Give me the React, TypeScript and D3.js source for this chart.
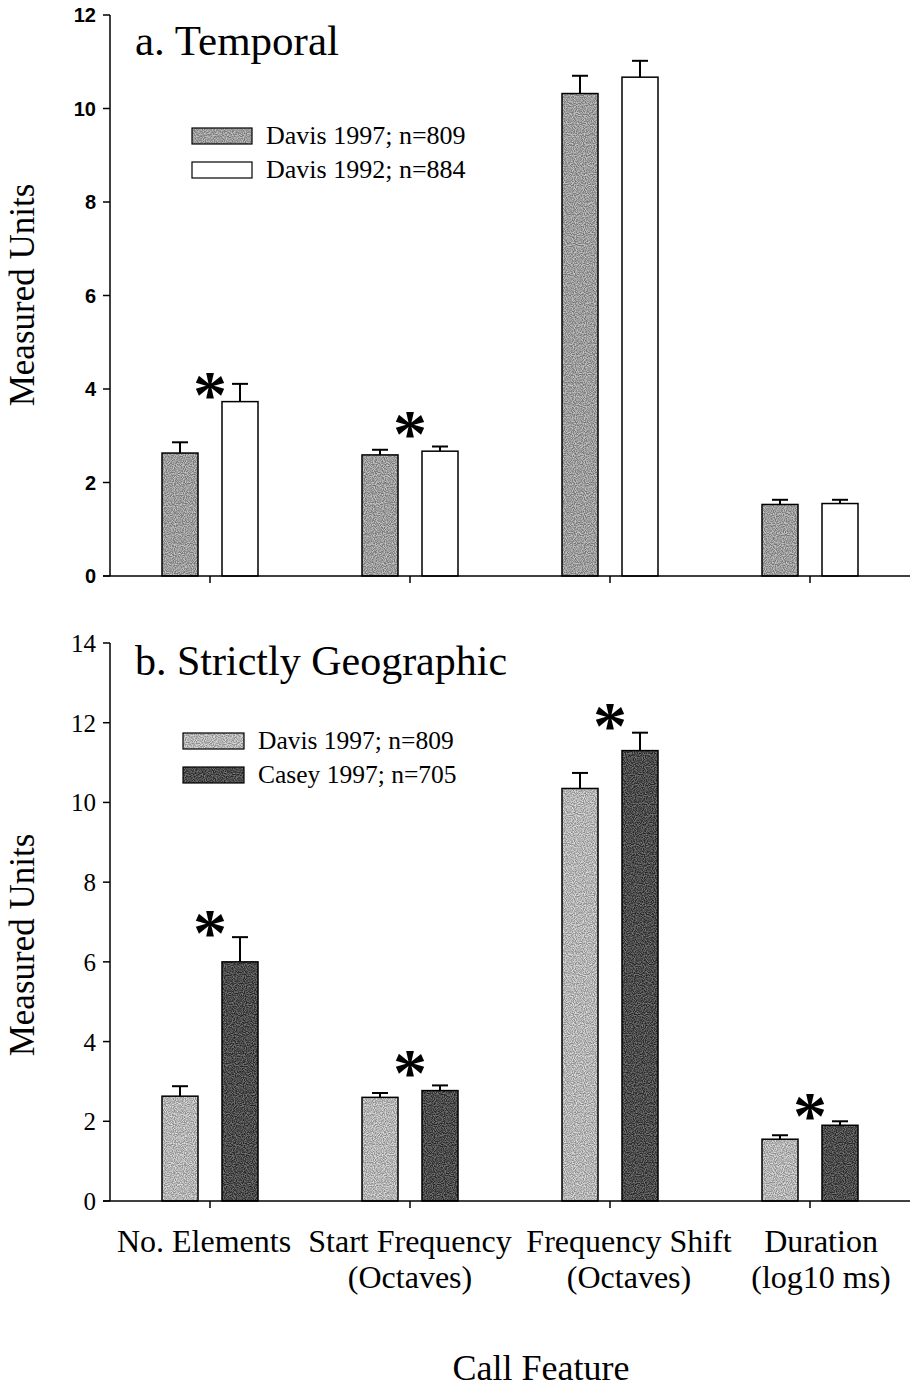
import React from "react";
import * as d3 from "d3";

const categories = ["No. Elements", "Start Frequency", "Frequency Shift", "Duration"];
const categoryLines = [["No. Elements"], ["Start Frequency", "(Octaves)"], ["Frequency Shift", "(Octaves)"], ["Duration", "(log10 ms)"]];

// Panel a — Temporal
const davis1997 = [2.63, 2.59, 10.32, 1.53];
const davis1997Err = [2.86, 2.70, 10.70, 1.63];
const davis1992 = [3.73, 2.67, 10.67, 1.55];
const davis1992Err = [4.11, 2.77, 11.02, 1.63];
const temporalStars: (number | null)[] = [4.09, 3.25, null, null];

// Panel b — Strictly Geographic
const davis1997b = [2.63, 2.60, 10.35, 1.55];
const davis1997bErr = [2.88, 2.71, 10.74, 1.65];
const casey1997 = [6.0, 2.77, 11.3, 1.9];
const casey1997Err = [6.62, 2.9, 11.75, 2.0];
const geoStars: (number | null)[] = [6.98, 3.46, 12.17, 2.38];

const yTicksA = [0, 2, 4, 6, 8, 10, 12];
const yTicksB = [0, 2, 4, 6, 8, 10, 12, 14];

const SERIF = "'Liberation Serif', 'Times New Roman', Times, serif";
const SANS = "'Liberation Sans', Arial, Helvetica, sans-serif";

// horizontal nudges of the category labels (layout, not data)
const LABEL_SHIFT = [-6, 0, 19, 11];

type Series = { name: string; values: number[]; err: number[]; fill: string; stipple: boolean };

type PanelProps = {
  title: string;
  series: Series[];
  stars: (number | null)[];
  yMax: number;
  ticks: number[];
  yTop: number;
  yBottom: number;
  tickFont: string;
  tickWeight: number;
  tickSize: number;
  legendX: number;
  legendY: number;
  legendW: number;
  legendH: number;
  legendGap: number;
  legendFont: number;
  titleY: number;
  titleSize: number;
  yLabelCenter: number;
};

function Panel(p: PanelProps) {
  const x = d3.scaleBand<string>().domain(categories).range([110, 910]).padding(0);
  const inner = d3
    .scaleBand<string>()
    .domain(p.series.map((s) => s.name))
    .range([-48, 48])
    .paddingInner(0.4)
    .paddingOuter(0);
  const y = d3.scaleLinear().domain([0, p.yMax]).range([p.yBottom, p.yTop]);
  const cx = (c: string) => (x(c) as number) + x.bandwidth() / 2;

  return (
    <g>
      {/* bars */}
      {p.series.map((s) => (
        <g key={s.name}>
          {categories.map((c, i) => {
            const bx = cx(c) + (inner(s.name) as number);
            const bw = inner.bandwidth();
            const mid = bx + bw / 2;
            const top = y(s.values[i]);
            const h = y(0) - top;
            return (
              <g key={c}>
                <line x1={mid} x2={mid} y1={top} y2={y(s.err[i])} stroke="#000" strokeWidth={2} />
                <line x1={mid - 8} x2={mid + 8} y1={y(s.err[i])} y2={y(s.err[i])} stroke="#000" strokeWidth={2} />
                <rect
                  x={bx}
                  y={top}
                  width={bw}
                  height={h}
                  fill={s.fill}
                  filter={s.stipple ? "url(#stipple)" : undefined}
                />
                <rect x={bx} y={top} width={bw} height={h} fill="none" stroke="#000" strokeWidth={1.5} />
              </g>
            );
          })}
        </g>
      ))}
      {/* stars */}
      {categories.map((c, i) =>
        p.stars[i] == null ? null : (
          <text
            key={c}
            x={cx(c)}
            y={y(p.stars[i] as number) + 32}
            textAnchor="middle"
            fontFamily={SERIF}
            fontWeight={700}
            fontSize={68}
            fill="#000"
          >
            *
          </text>
        )
      )}
      {/* y axis */}
      <line x1={110} x2={110} y1={y(p.yMax)} y2={y(0)} stroke="#000" strokeWidth={1.5} />
      {p.ticks.map((t) => (
        <g key={t}>
          <line x1={103} x2={110} y1={y(t)} y2={y(t)} stroke="#000" strokeWidth={1.5} />
          <text
            x={96}
            y={y(t)}
            dy="0.36em"
            textAnchor="end"
            fontFamily={p.tickFont}
            fontWeight={p.tickWeight}
            fontSize={p.tickSize}
            fill="#000"
          >
            {t}
          </text>
        </g>
      ))}
      {/* x axis */}
      <line x1={103} x2={910} y1={y(0)} y2={y(0)} stroke="#000" strokeWidth={1.5} />
      {categories.map((c) => (
        <line key={c} x1={cx(c)} x2={cx(c)} y1={y(0)} y2={y(0) + 7} stroke="#000" strokeWidth={1.5} />
      ))}
      {/* y label */}
      <text
        transform={`translate(34,${p.yLabelCenter}) rotate(-90)`}
        textAnchor="middle"
        fontFamily={SERIF}
        fontSize={35}
        fill="#000"
      >
        Measured Units
      </text>
      {/* title */}
      <text x={135} y={p.titleY} fontFamily={SERIF} fontSize={p.titleSize} fill="#000">
        {p.title}
      </text>
      {/* legend */}
      {p.series.map((s, i) => (
        <g key={s.name}>
          <rect
            x={p.legendX}
            y={p.legendY + i * p.legendGap}
            width={p.legendW}
            height={p.legendH}
            fill={s.fill}
            filter={s.stipple ? "url(#stipple)" : undefined}
          />
          <rect
            x={p.legendX}
            y={p.legendY + i * p.legendGap}
            width={p.legendW}
            height={p.legendH}
            fill="none"
            stroke="#000"
            strokeWidth={1.2}
          />
          <text
            x={p.legendX + p.legendW + 14}
            y={p.legendY + i * p.legendGap + p.legendH}
            fontFamily={SERIF}
            fontSize={p.legendFont}
            fill="#000"
          >
            {s.name}
          </text>
        </g>
      ))}
    </g>
  );
}

export default function App() {
  const xb = d3.scaleBand<string>().domain(categories).range([110, 910]).padding(0);
  return (
    <svg
      width={910}
      height={1389}
      viewBox="0 0 910 1389"
      style={{ position: "absolute", left: 0, top: 0, background: "#fff", display: "block" }}
    >
      <defs>
        <filter id="stipple" x="0" y="0" width="100%" height="100%" colorInterpolationFilters="sRGB">
          <feTurbulence type="fractalNoise" baseFrequency="0.9" numOctaves={1} seed={7} result="noise" />
          <feColorMatrix
            in="noise"
            type="matrix"
            values="3 0 0 0 -1  3 0 0 0 -1  3 0 0 0 -1  0 0 0 0 1"
            result="gray"
          />
          <feComposite in="SourceGraphic" in2="gray" operator="arithmetic" k1={0} k2={1} k3={0.3} k4={-0.15} result="mix" />
          <feComposite in="mix" in2="SourceGraphic" operator="in" />
        </filter>
      </defs>
      <rect x={0} y={0} width={910} height={1389} fill="#fff" />
      <Panel
        title="a. Temporal"
        series={[
          { name: "Davis 1997; n=809", values: davis1997, err: davis1997Err, fill: "#9c9c9c", stipple: true },
          { name: "Davis 1992; n=884", values: davis1992, err: davis1992Err, fill: "#ffffff", stipple: false },
        ]}
        stars={temporalStars}
        yMax={12}
        ticks={yTicksA}
        yTop={15}
        yBottom={576}
        tickFont={SANS}
        tickWeight={700}
        tickSize={20}
        legendX={192}
        legendY={128}
        legendW={60}
        legendH={16}
        legendGap={34}
        legendFont={26}
        titleY={55}
        titleSize={43}
        yLabelCenter={295}
      />
      <Panel
        title="b. Strictly Geographic"
        series={[
          { name: "Davis 1997; n=809", values: davis1997b, err: davis1997bErr, fill: "#b4b4b4", stipple: true },
          { name: "Casey 1997; n=705", values: casey1997, err: casey1997Err, fill: "#4c4c4c", stipple: true },
        ]}
        stars={geoStars}
        yMax={14}
        ticks={yTicksB}
        yTop={643}
        yBottom={1201}
        tickFont={SERIF}
        tickWeight={400}
        tickSize={25}
        legendX={183}
        legendY={733}
        legendW={61}
        legendH={16}
        legendGap={34}
        legendFont={25.5}
        titleY={675}
        titleSize={42}
        yLabelCenter={945}
      />
      {/* x category labels */}
      {categories.map((c, i) =>
        categoryLines[i].map((ln, j) => (
          <text
            key={c + j}
            x={(xb(c) as number) + xb.bandwidth() / 2 + LABEL_SHIFT[i]}
            y={1252 + j * 36}
            textAnchor="middle"
            fontFamily={SERIF}
            fontSize={32}
            fill="#000"
          >
            {ln}
          </text>
        ))
      )}
      <text x={541} y={1380} textAnchor="middle" fontFamily={SERIF} fontSize={36} fill="#000">
        Call Feature
      </text>
    </svg>
  );
}
